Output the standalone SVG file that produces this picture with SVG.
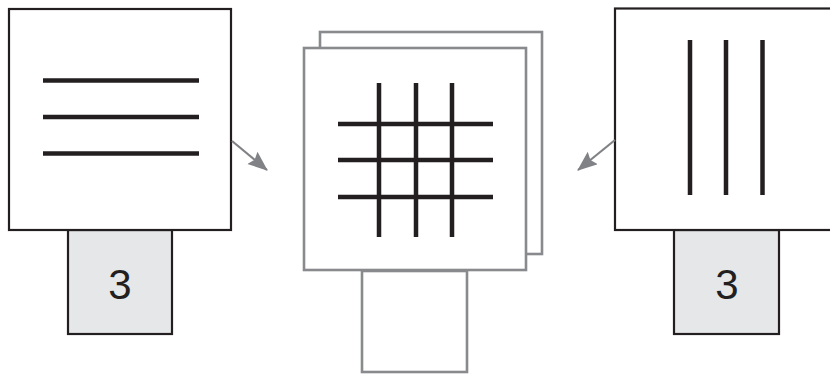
<svg xmlns="http://www.w3.org/2000/svg" width="830" height="374" viewBox="0 0 830 374">
<style>
.blk{fill:#fff;stroke:#231f20;stroke-width:2.2}
.tab{fill:#e6e7e8;stroke:#231f20;stroke-width:2.2}
.gry{fill:#fff;stroke:#898a8d;stroke-width:2.6}
.bar{stroke:#231f20;stroke-width:4.5;fill:none}
.lbl{font-family:"Liberation Sans",Arial,sans-serif;font-size:42px;fill:#231f20;text-anchor:middle}
.conn{stroke:#808285;stroke-width:2.2;fill:none}
</style>
<defs>
<marker id="ah" markerUnits="userSpaceOnUse" markerWidth="24" markerHeight="20" refX="19" refY="8" orient="auto" viewBox="0 0 24 20">
<path d="M0,0 L20,8 L0,16 L3,8 z" fill="#808285"/>
</marker>
</defs>
<rect width="830" height="374" fill="#fff"/>
<g id="left">
<rect class="tab" x="68" y="230" width="104" height="104"/>
<rect class="blk" x="9" y="9" width="222" height="221"/>
<line class="bar" x1="43" y1="80.5" x2="199" y2="80.5"/>
<line class="bar" x1="43" y1="117" x2="199" y2="117"/>
<line class="bar" x1="43" y1="153.5" x2="199" y2="153.5"/>
<text class="lbl" x="120" y="299">3</text>
</g>
<g id="center">
<rect class="gry" x="362" y="271" width="105" height="101"/>
<rect class="gry" x="320" y="32" width="222" height="222"/>
<rect class="gry" x="304" y="48" width="222" height="222"/>
<line class="bar" x1="338" y1="124" x2="493" y2="124"/>
<line class="bar" x1="338" y1="160" x2="493" y2="160"/>
<line class="bar" x1="338" y1="197" x2="493" y2="197"/>
<line class="bar" x1="379" y1="83" x2="379" y2="237"/>
<line class="bar" x1="416" y1="83" x2="416" y2="237"/>
<line class="bar" x1="452" y1="83" x2="452" y2="237"/>
</g>
<g id="right">
<rect class="tab" x="674" y="230" width="105" height="104"/>
<rect class="blk" x="615" y="8.5" width="230" height="221.5"/>
<line class="bar" x1="690" y1="40" x2="690" y2="195"/>
<line class="bar" x1="726" y1="40" x2="726" y2="195"/>
<line class="bar" x1="762.5" y1="40" x2="762.5" y2="195"/>
<text class="lbl" x="727" y="299">3</text>
</g>
<g id="connectors">
<line class="conn" x1="232" y1="141" x2="267" y2="170" marker-end="url(#ah)"/>
<line class="conn" x1="615" y1="140" x2="578" y2="170" marker-end="url(#ah)"/>
</g>
</svg>
